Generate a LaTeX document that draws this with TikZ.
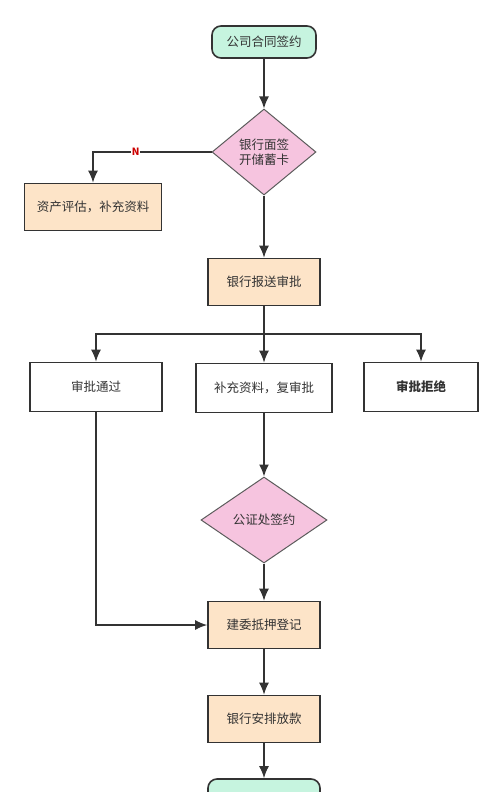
\documentclass[tikz,border=0pt]{standalone}
\usepackage{fontspec}
\setmainfont{Noto Sans CJK SC}
\usetikzlibrary{shapes.geometric,arrows.meta,positioning}

\definecolor{mint}{HTML}{C6F4DF}
\definecolor{peach}{HTML}{FDE4C8}
\definecolor{pinkish}{HTML}{F6C4DF}
\definecolor{ink}{HTML}{333333}

\begin{document}
\begin{tikzpicture}[
    x=1pt,
    y=-1pt,
    every node/.style={font=\fontsize{12.5}{15}\selectfont,text=ink},
    term/.style={draw=ink,line width=1.6pt,fill=mint,rounded corners=9pt,minimum width=104pt,minimum height=32pt},
    stepbox/.style={draw=ink,line width=1.6pt,fill=peach,minimum width=112pt,minimum height=47pt},
    plainbox/.style={draw=ink,line width=1.6pt,fill=white,minimum width=132pt,minimum height=49pt},
    choice/.style={diamond,draw=ink!80,line width=1pt,fill=pinkish,inner sep=0pt,minimum width=104pt,minimum height=86pt,align=center},
    line/.style={draw=ink,line width=1.6pt},
    arrow/.style={line,-{Latex[length=12pt,width=10pt]}}
    ]
    \useasboundingbox (0,0) rectangle (502,792);
    \clip (0,0) rectangle (502,792);

    \node[term] (start) at (264, 42) {公司合同签约};
    \node[choice] (sign) at (264,152) {银行面签\\开储蓄卡};
    \node[stepbox,minimum width=137pt] (assess) at ( 93,207) {资产评估，补充资料};
    \node[stepbox] (report) at (264,282) {银行报送审批};

    \node[plainbox] (pass) at ( 96,387) {审批通过};
    \node[plainbox,minimum width=136pt] (recheck) at (264,388) {补充资料，复审批};
    \node[plainbox,minimum width=114pt] (reject) at (421,387) {\bfseries 审批拒绝};

    \node[choice,minimum width=126pt] (notary) at (264,520) {公证处签约};
    \node[stepbox] (register) at (264,625) {建委抵押登记};
    \node[stepbox] (loan) at (264,719) {银行安排放款};
    \node[term,minimum width=112pt] (finish) at (264,795) {};

    \coordinate (split) at (264,334);

    % main flow
    \draw[arrow] (start) -- (sign);
    \draw[arrow] (sign) -- (report);
    \draw[arrow] (sign) -| node[pos=0.32,fill=white,inner sep=1pt,text=red!80!black,font=\fontsize{10}{11}\selectfont\bfseries]{N} (assess);
    % split
    \draw[line] (report) -- (split);
    \draw[arrow] (split) -| (pass);
    \draw[arrow] (split) -- (recheck);
    \draw[arrow] (split) -| (reject);
    % lower part
    \draw[arrow] (recheck) -- (notary);
    \draw[arrow] (notary) -- (register);
    \draw[arrow] (pass) |- (register);
    \draw[arrow] (register) -- (loan);
    \draw[arrow] (loan) -- (finish);
  \end{tikzpicture}
\end{document}
